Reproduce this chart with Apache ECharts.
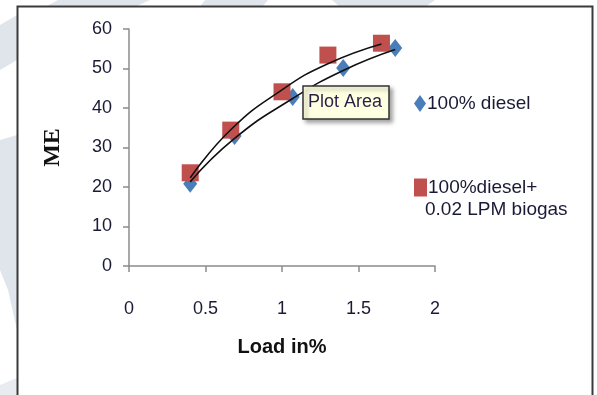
<!DOCTYPE html>
<html>
<head>
<meta charset="utf-8">
<script src="https://cdn.jsdelivr.net/npm/echarts@6/dist/echarts.min.js"></script>
<style>
html,body{margin:0;padding:0;background:#fff;}
#chart{width:597px;height:395px;}
</style>
</head>
<body>
<div id="chart"></div>
<script>
// ---- data ----
const seriesNames = ['100% diesel', '100%diesel+ 0.02 LPM biogas'];
const dieselLoad = [0.40, 0.69, 1.07, 1.40, 1.74];
const dieselME   = [20.8, 32.9, 42.8, 50.1, 55.2];
const biogasLoad = [0.40, 0.665, 1.00, 1.30, 1.65];
const biogasME   = [23.6, 34.4, 44.1, 53.4, 56.4];
// trend lines (as drawn in the reference)
const dieselTrendLoad = [0.40, 0.69, 1.07, 1.40, 1.74];
const dieselTrendME   = [21.3, 32.3, 42.4, 49.5, 54.8];
const biogasTrendLoad = [0.40, 0.665, 1.00, 1.30, 1.65];
const biogasTrendME   = [22.3, 34.5, 44.6, 51.2, 56.2];
const xTicks = [0, 0.5, 1, 1.5, 2];
const yTicks = [0, 10, 20, 30, 40, 50, 60];
const xTitle = 'Load in%';
const yTitle = 'ME';

const zip = (a, b) => a.map((v, i) => [v, b[i]]);
const font = "'Liberation Sans', Arial, sans-serif";
const txt = '#1a1a36';

const chart = echarts.init(document.getElementById('chart'), null, {renderer: 'canvas'});
chart.setOption({
  animation: false,
  backgroundColor: '#ffffff',
  grid: {left: 129, right: 162, top: 29, bottom: 129, containLabel: false},
  xAxis: {
    type: 'value', min: xTicks[0], max: xTicks[xTicks.length - 1], interval: 0.5,
    splitLine: {show: false},
    axisLine: {onZero: false, lineStyle: {color: '#8c8c8c', width: 1.5}},
    axisTick: {show: true, length: 6, lineStyle: {color: '#8c8c8c', width: 1.5}},
    axisLabel: {margin: 34, fontSize: 18, color: txt, fontFamily: font},
    name: xTitle, nameLocation: 'middle', nameGap: 71,
    nameTextStyle: {fontSize: 20, fontWeight: 'bold', color: '#111', fontFamily: font}
  },
  yAxis: {
    type: 'value', min: yTicks[0], max: yTicks[yTicks.length - 1], interval: 10,
    splitLine: {show: false},
    axisLine: {show: true, lineStyle: {color: '#8c8c8c', width: 1.5}},
    axisTick: {show: true, length: 6, lineStyle: {color: '#8c8c8c', width: 1.5}},
    axisLabel: {margin: 17, fontSize: 18, color: txt, fontFamily: font},
    name: yTitle, nameLocation: 'middle', nameGap: 64, nameRotate: 90,
    nameTextStyle: {fontSize: 24, fontWeight: 'bold', color: '#111', fontFamily: "'Liberation Serif', 'Times New Roman', serif"}
  },
  legend: [
    {
      data: [seriesNames[0]], orient: 'vertical', left: 409, top: 89,
      itemWidth: 12, itemHeight: 17, itemGap: 10,
      textStyle: {fontSize: 19, color: txt, fontFamily: font, padding: [0, 0, 0, -4]}
    },
    {
      data: [seriesNames[1]], orient: 'vertical', left: 409, top: 173,
      itemWidth: 13, itemHeight: 18,
      formatter: () => '100%diesel+',
      textStyle: {fontSize: 19, color: txt, fontFamily: font, padding: [0, 0, 0, -4]}
    }
  ],
  graphic: [
    // background stripes outside the frame
    {type: 'polygon', z: -10, shape: {points: [[58,0],[150,0],[135,7],[45,7]]}, style: {fill: '#dfe5eb'}},
    {type: 'polygon', z: -10, shape: {points: [[205,0],[268,0],[262,7],[200,7]]}, style: {fill: '#dfe5eb'}},
    {type: 'polygon', z: -10, shape: {points: [[332,0],[435,0],[425,7],[340,7]]}, style: {fill: '#dfe5eb'}},
    {type: 'polygon', z: -10, shape: {points: [[0,25],[17,15],[17,60],[0,70]]}, style: {fill: '#dfe5eb'}},
    {type: 'polygon', z: -10, shape: {points: [[0,140],[17,135],[17,330],[8,290],[0,270]]}, style: {fill: '#dfe5eb'}},
    {type: 'polygon', z: -10, shape: {points: [[0,385],[17,378],[17,395],[0,395]]}, style: {fill: '#e8ecf0'}},
    // frame
    {type: 'rect', z: 10, shape: {x: 17.5, y: 6.5, width: 575, height: 400},
     style: {fill: 'none', stroke: '#3a3a3a', lineWidth: 2}},
    // second line of legend label
    {type: 'text', z: 10, left: 425, top: 200,
     style: {text: '0.02 LPM biogas', font: "19px 'Liberation Sans', Arial, sans-serif", fill: txt}},
    // "Plot Area" tooltip box
    {type: 'rect', z: 20, shape: {x: 303, y: 86, width: 86, height: 33},
     style: {fill: '#ffffe1', stroke: '#333', lineWidth: 1.5, shadowBlur: 4, shadowOffsetX: 3, shadowOffsetY: 3, shadowColor: 'rgba(0,0,0,0.35)'}},
    {type: 'text', z: 21, left: 308, top: 93,
     style: {text: 'Plot Area', font: "18px 'Liberation Sans', Arial, sans-serif", fill: '#2a1f48'}}
  ],
  series: [
    {
      name: seriesNames[0], type: 'scatter', symbol: 'diamond', symbolSize: [14, 18],
      itemStyle: {color: '#4a7ebb', opacity: 1}, z: 2,
      data: zip(dieselLoad, dieselME)
    },
    {
      name: seriesNames[1], type: 'scatter', symbol: 'rect', symbolSize: 17,
      itemStyle: {color: '#c0504d', opacity: 1}, z: 3,
      data: zip(biogasLoad, biogasME)
    },
    {
      name: 'trend1', type: 'line', smooth: true, showSymbol: false, symbol: 'none', z: 5,
      lineStyle: {color: '#111', width: 1.6}, data: zip(dieselTrendLoad, dieselTrendME)
    },
    {
      name: 'trend2', type: 'line', smooth: true, showSymbol: false, symbol: 'none', z: 5,
      lineStyle: {color: '#111', width: 1.6}, data: zip(biogasTrendLoad, biogasTrendME)
    }
  ]
});
</script>
</body>
</html>
